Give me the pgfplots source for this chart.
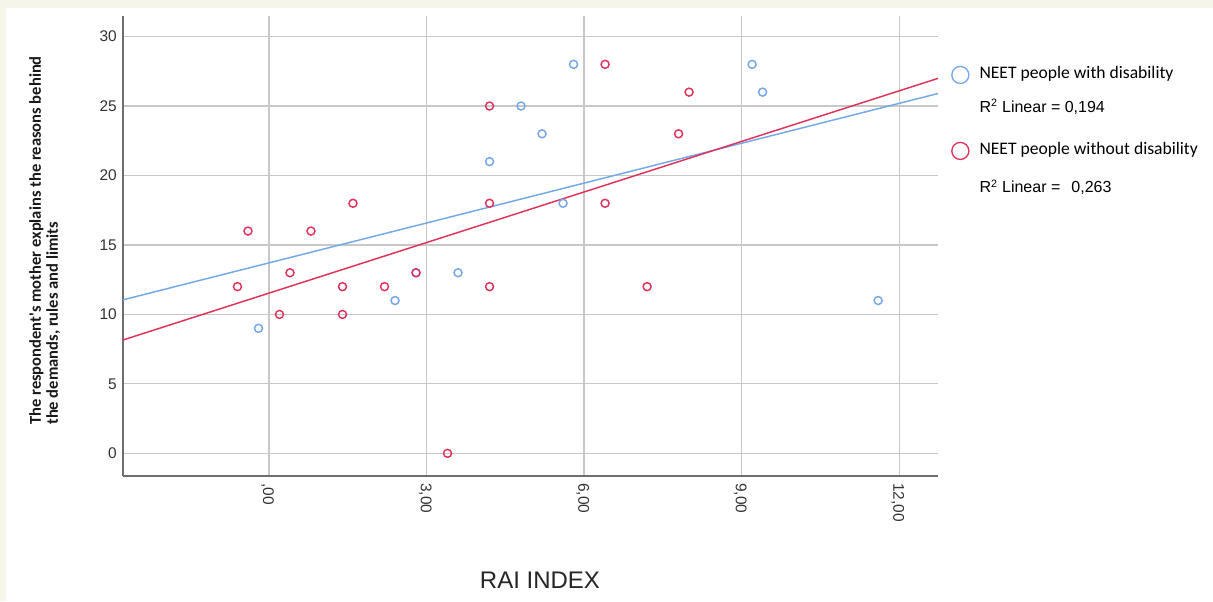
\documentclass[border=0pt]{standalone}
\usepackage{pgfplots}
\pgfplotsset{compat=1.18}
\usepackage{fontspec}
\setmainfont{Liberation Sans}
\newfontfamily\calibri{Carlito}
\definecolor{cream}{HTML}{F5F5E9}
\definecolor{spssblue}{HTML}{74A8E8}
\definecolor{spssred}{HTML}{E0335C}
\definecolor{gridgray}{HTML}{C8C8C8}
\definecolor{axisgray}{HTML}{6E6E6E}
\begin{document}
\begin{tikzpicture}
\fill[cream] (0,0) rectangle (909.75pt,450.75pt);
\fill[white] (4.5pt,0) rectangle (909.75pt,444.75pt);
\begin{axis}[
  scale only axis, width=611.25pt, height=345pt,
  at={(92.25pt,93.75pt)}, anchor=south west,
  xmin=-2.78, xmax=12.74, ymin=-1.63, ymax=31.48,
  axis x line*=bottom, axis y line*=left,
  axis line style={axisgray, line width=1pt, -},
  grid=major, major grid style={gridgray, line width=0.9pt},
  major tick length=0pt,
  xtick={0,3,6,9,12}, xticklabels={{,00},{3,00},{6,00},{9,00},{12,00}},
  ytick={0,5,...,30},
  /pgf/number format/assume math mode=true,
  tick label style={font=\fontsize{11.6}{13}\selectfont, text=black!80},
  xticklabel style={rotate=-90, anchor=west, inner sep=0pt, xshift=5.25pt, yshift=-1pt},
  yticklabel style={anchor=east, inner sep=0pt, xshift=-4.5pt},
  legend style={draw=none, fill=none, at={(1,1)}, anchor=north west,
    xshift=8pt, yshift=-36pt, inner sep=0pt, row sep=12.5pt, column sep=6pt,
    nodes={inner sep=2pt, text height=9pt, text depth=3pt},
    font=\fontsize{12}{14}\selectfont},
  legend cell align=left,
]
\addlegendimage{only marks, mark=o, mark size=6.4pt, spssblue, mark options={line width=1pt}}
\addlegendentry{{\calibri\fontsize{13.2}{15}\selectfont NEET people with disability}}
\addlegendimage{empty legend}
\addlegendentry{\raisebox{3.5pt}{R\textsuperscript{2} Linear = 0,194}}
\addlegendimage{only marks, mark=o, mark size=6.4pt, spssred, mark options={line width=1pt}}
\addlegendentry{{\calibri\fontsize{13.2}{15}\selectfont NEET people without disability}}
\addlegendimage{empty legend}
\addlegendentry{R\textsuperscript{2} Linear =\hspace{5pt} 0,263}

% regression lines
\addplot[spssblue, line width=1.1pt, forget plot] coordinates {(-2.78,11.05) (12.74,25.90)};
\addplot[spssred, line width=1.1pt, forget plot] coordinates {(-2.78,8.16) (12.74,26.99)};

% NEET people with disability
\addplot[only marks, mark=o, mark size=3pt, spssblue, mark options={line width=1.1pt}, forget plot] coordinates {
(-0.2,9) (2.4,11) (2.8,13) (3.6,13) (4.2,21) (4.8,25) (5.2,23) (5.6,18)
(5.8,28) (9.2,28) (9.4,26) (11.6,11)};
% NEET people without disability
\addplot[only marks, mark=o, mark size=3pt, spssred, mark options={line width=1.1pt}, forget plot] coordinates {
(-0.6,12) (-0.4,16) (0.2,10) (0.4,13) (0.8,16) (1.4,12) (1.4,10) (1.6,18)
(2.2,12) (2.8,13) (3.4,0) (4.2,18) (4.2,12) (4.2,25) (6.4,28) (6.4,18)
(7.2,12) (7.8,23) (8.0,26)};
\end{axis}
\node[rotate=90, anchor=north west, align=left, inner sep=0pt,
  font=\calibri\bfseries\fontsize{12.4}{12.75}\selectfont, text=black!90]
  at (21.75pt,132pt) {The respondent's mother explains the reasons behind\\the demands, rules and limits};
\node[font=\fontsize{18}{21}\selectfont, text=black!85] at (405pt,15.75pt) {RAI INDEX};
\end{tikzpicture}
\end{document}
